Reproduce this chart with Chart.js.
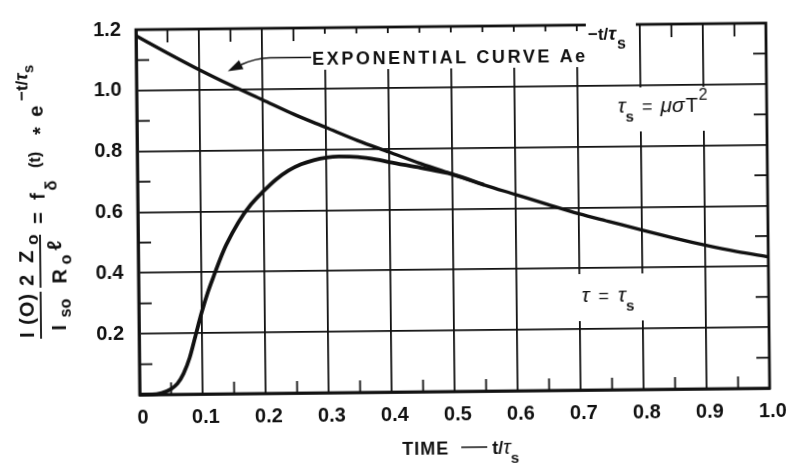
<!DOCTYPE html>
<html>
<head>
<meta charset="utf-8">
<script src="https://cdn.jsdelivr.net/npm/chart.js@4.4.1/dist/chart.umd.min.js"></script>
<style>
  html, body { margin: 0; padding: 0; background: #fff; overflow: hidden; }
  #wrap { width: 793px; height: 466px; transform: rotate(-0.6deg); }
</style>
</head>
<body>
<div id="wrap"><canvas id="decay" width="793" height="466"></canvas></div>
<script>
const INK = '#111';
const SANS = "'Liberation Sans', Arial, sans-serif";

// exponential envelope A e^(-t/tau_s)
const expT = [0, 0.05, 0.1, 0.15, 0.2, 0.25, 0.3, 0.35, 0.4, 0.45, 0.5,
              0.55, 0.6, 0.65, 0.7, 0.75, 0.8, 0.85, 0.9, 0.95, 1.0];
const expCurve = [1.18, 1.122, 1.066, 1.014, 0.965, 0.916, 0.872, 0.828, 0.789, 0.75, 0.714,
                  0.678, 0.645, 0.612, 0.58, 0.552, 0.524, 0.497, 0.472, 0.45, 0.432];

// response for tau = tau_s, joins the envelope near t = 0.5
const respT = [0, 0.02, 0.035, 0.05, 0.06, 0.07, 0.08, 0.09, 0.1, 0.11, 0.12, 0.13, 0.14, 0.16,
               0.18, 0.2, 0.22, 0.24, 0.26, 0.28, 0.3, 0.32, 0.35, 0.38, 0.4, 0.45, 0.5, 0.55];
const respCurve = [0, 0, 0.005, 0.018, 0.035, 0.068, 0.12, 0.195, 0.27, 0.335, 0.39, 0.443, 0.49, 0.565,
                   0.622, 0.665, 0.703, 0.732, 0.752, 0.765, 0.773, 0.776, 0.774, 0.765, 0.756, 0.736, 0.714, 0.678];

const xTickLabels = ['0', '0.1', '0.2', '0.3', '0.4', '0.5', '0.6', '0.7', '0.8', '0.9', '1.0'];
const yTickLabels = ['', '0.2', '0.4', '0.6', '0.8', '1.0', '1.2'];
const minorX = [0.05, 0.15, 0.25, 0.35, 0.45, 0.55, 0.65, 0.75, 0.85, 0.95];
const minorY = [0.1, 0.3, 0.5, 0.7, 0.9, 1.1];

const toPoints = (xs, ys) => xs.map((x, i) => ({ x, y: ys[i] }));

function line(ctx, x1, y1, x2, y2) {
  ctx.beginPath();
  ctx.moveTo(x1, y1);
  ctx.lineTo(x2, y2);
  ctx.stroke();
}

function put(ctx, t, f, x, y) {
  ctx.font = f;
  ctx.fillText(t, x, y);
  return x + ctx.measureText(t).width;
}

// draws pieces one after another along the baseline direction
function run(ctx, x, parts) {
  for (const p of parts) {
    x = put(ctx, p.t, p.f, x, p.y) + (p.g || 0);
  }
  return x;
}

const paperFrame = {
  id: 'paperFrame',
  beforeDatasetsDraw(chart) {
    const { ctx, chartArea: a, scales: { x, y } } = chart;
    ctx.save();
    ctx.strokeStyle = INK;
    ctx.lineWidth = 1.8;
    minorX.forEach(v => {
      const px = x.getPixelForValue(v);
      line(ctx, px, a.bottom, px, a.bottom - 12);
      line(ctx, px, a.top, px, a.top + 13);
    });
    minorY.forEach(v => {
      const py = y.getPixelForValue(v);
      line(ctx, a.left, py, a.left + 13, py);
      line(ctx, a.right, py, a.right - 13, py);
    });
    ctx.lineWidth = 2.8;
    ctx.strokeRect(a.left, a.top, a.right - a.left, a.bottom - a.top);

    // blank patches under the lettering
    ctx.fillStyle = '#fff';
    ctx.fillRect(309, 33, 282, 36);
    ctx.fillRect(588, 19, 50, 33);
    ctx.fillRect(612, 90, 118, 44);
    ctx.fillRect(575, 276, 75, 47);
    ctx.restore();
  },
  afterDraw(chart) {
    const { ctx } = chart;
    ctx.save();
    ctx.fillStyle = INK;
    ctx.strokeStyle = INK;
    ctx.textBaseline = 'alphabetic';
    ctx.textAlign = 'left';

    // curve callout
    ctx.letterSpacing = '2.6px';
    put(ctx, 'EXPONENTIAL CURVE Ae', `bold 18px ${SANS}`, 314, 64);
    ctx.letterSpacing = '0px';
    run(ctx, 590, [
      { t: '\u2212t/', f: `bold 17px ${SANS}`, y: 42 },
      { t: '\u03c4', f: `italic bold 19px ${SANS}`, y: 42, g: 1 },
      { t: 's', f: `bold 16px ${SANS}`, y: 51 }
    ]);
    ctx.lineWidth = 1.7;
    ctx.beginPath();
    ctx.moveTo(313, 56.5);
    ctx.lineTo(272, 56.5);
    ctx.quadraticCurveTo(256, 57, 243, 63);
    ctx.stroke();
    const tipX = 229.5, tipY = 69.5, ang = Math.atan2(63 - tipY, 243 - tipX);
    ctx.beginPath();
    ctx.moveTo(tipX, tipY);
    ctx.lineTo(tipX + 15 * Math.cos(ang) - 5 * Math.sin(ang), tipY + 15 * Math.sin(ang) + 5 * Math.cos(ang));
    ctx.lineTo(tipX + 15 * Math.cos(ang) + 5 * Math.sin(ang), tipY + 15 * Math.sin(ang) - 5 * Math.cos(ang));
    ctx.closePath();
    ctx.fill();

    // tau_s = mu sigma T^2
    run(ctx, 619, [
      { t: '\u03c4', f: `italic 21px ${SANS}`, y: 115 },
      { t: 's', f: `bold 15px ${SANS}`, y: 124, g: 8 },
      { t: '=', f: `18px ${SANS}`, y: 115, g: 8 },
      { t: '\u03bc\u03c3', f: `italic 21px ${SANS}`, y: 115, g: 1 },
      { t: 'T', f: `20px ${SANS}`, y: 115, g: 1 },
      { t: '2', f: `16px ${SANS}`, y: 103 }
    ]);

    // tau = tau_s
    run(ctx, 581, [
      { t: '\u03c4', f: `italic 21px ${SANS}`, y: 304, g: 9 },
      { t: '=', f: `18px ${SANS}`, y: 304, g: 9 },
      { t: '\u03c4', f: `italic 21px ${SANS}`, y: 304 },
      { t: 's', f: `bold 15px ${SANS}`, y: 313 }
    ]);

    // x axis title
    ctx.letterSpacing = '1px';
    put(ctx, 'TIME', `bold 18px ${SANS}`, 400, 455);
    ctx.letterSpacing = '0px';
    ctx.lineWidth = 1.5;
    line(ctx, 459, 448, 485, 448);
    run(ctx, 490, [
      { t: 't/', f: `bold 18px ${SANS}`, y: 455 },
      { t: '\u03c4', f: `italic 20px ${SANS}`, y: 455 },
      { t: 's', f: `bold 15px ${SANS}`, y: 464 }
    ]);

    // y axis title, written bottom-to-top (u runs up the page, v across it)
    ctx.translate(0, 466);
    ctx.rotate(-Math.PI / 2);
    const B = `bold 20px ${SANS}`;
    const S = `bold 16px ${SANS}`;
    ctx.letterSpacing = '1px';
    put(ctx, 'I (O)', B, 132, 33);
    ctx.letterSpacing = '0px';
    put(ctx, 'I', B, 139, 65);
    put(ctx, 'so', S, 152, 70);
    ctx.lineWidth = 1.8;
    line(ctx, 131, 40, 178, 40);

    put(ctx, '2', B, 184, 33);
    put(ctx, 'Z', B, 207, 33);
    put(ctx, 'o', `bold 17px ${SANS}`, 225, 38);
    put(ctx, 'R', B, 186, 66);
    put(ctx, 'o', S, 205, 71);
    put(ctx, '\u2113', `bold 20px ${SANS}`, 219, 61);
    line(ctx, 182, 40, 235, 40);

    put(ctx, '=', B, 246, 45);
    put(ctx, 'f', B, 270, 45);
    put(ctx, '\u03b4', `bold 17px ${SANS}`, 279, 57);
    put(ctx, '(t)', S, 302, 41);
    put(ctx, '*', B, 335, 48);
    put(ctx, 'e', B, 353, 44);
    run(ctx, 369, [
      { t: '\u2212t/', f: `bold 17px ${SANS}`, y: 29 },
      { t: '\u03c4', f: `italic bold 18px ${SANS}`, y: 29 },
      { t: 's', f: `bold 15px ${SANS}`, y: 35 }
    ]);
    ctx.restore();
  }
};

new Chart(document.getElementById('decay'), {
  type: 'scatter',
  data: {
    datasets: [
      {
        label: 'Exponential curve',
        data: toPoints(expT, expCurve),
        showLine: true,
        borderColor: INK,
        borderWidth: 3.4,
        pointRadius: 0,
        cubicInterpolationMode: 'monotone',
        clip: false
      },
      {
        label: 'tau = tau_s',
        data: toPoints(respT, respCurve),
        showLine: true,
        borderColor: INK,
        borderWidth: 3.8,
        pointRadius: 0,
        cubicInterpolationMode: 'monotone',
        clip: false
      }
    ]
  },
  options: {
    responsive: false,
    animation: false,
    events: [],
    layout: { padding: { top: 15, right: 25, left: 0, bottom: 0 } },
    plugins: { legend: { display: false }, tooltip: { enabled: false } },
    scales: {
      x: {
        type: 'linear',
        min: 0,
        max: 1,
        afterFit: s => { s.height = 74; },
        border: { display: true, color: INK, width: 2.8 },
        grid: { color: INK, lineWidth: 1.8, drawTicks: false },
        ticks: {
          stepSize: 0.1,
          padding: 11,
          labelOffset: 3,
          color: INK,
          maxRotation: 0,
          font: { family: SANS, size: 20, weight: 'bold' },
          callback: (v, i) => xTickLabels[i]
        }
      },
      y: {
        type: 'linear',
        min: 0,
        max: 1.2,
        afterFit: s => { s.width = 138; },
        border: { display: true, color: INK, width: 2.8 },
        grid: { color: INK, lineWidth: 1.8, drawTicks: false },
        ticks: {
          stepSize: 0.2,
          padding: 15,
          color: INK,
          font: { family: SANS, size: 20, weight: 'bold' },
          callback: (v, i) => yTickLabels[i]
        }
      }
    }
  },
  plugins: [paperFrame]
});
</script>
</body>
</html>
